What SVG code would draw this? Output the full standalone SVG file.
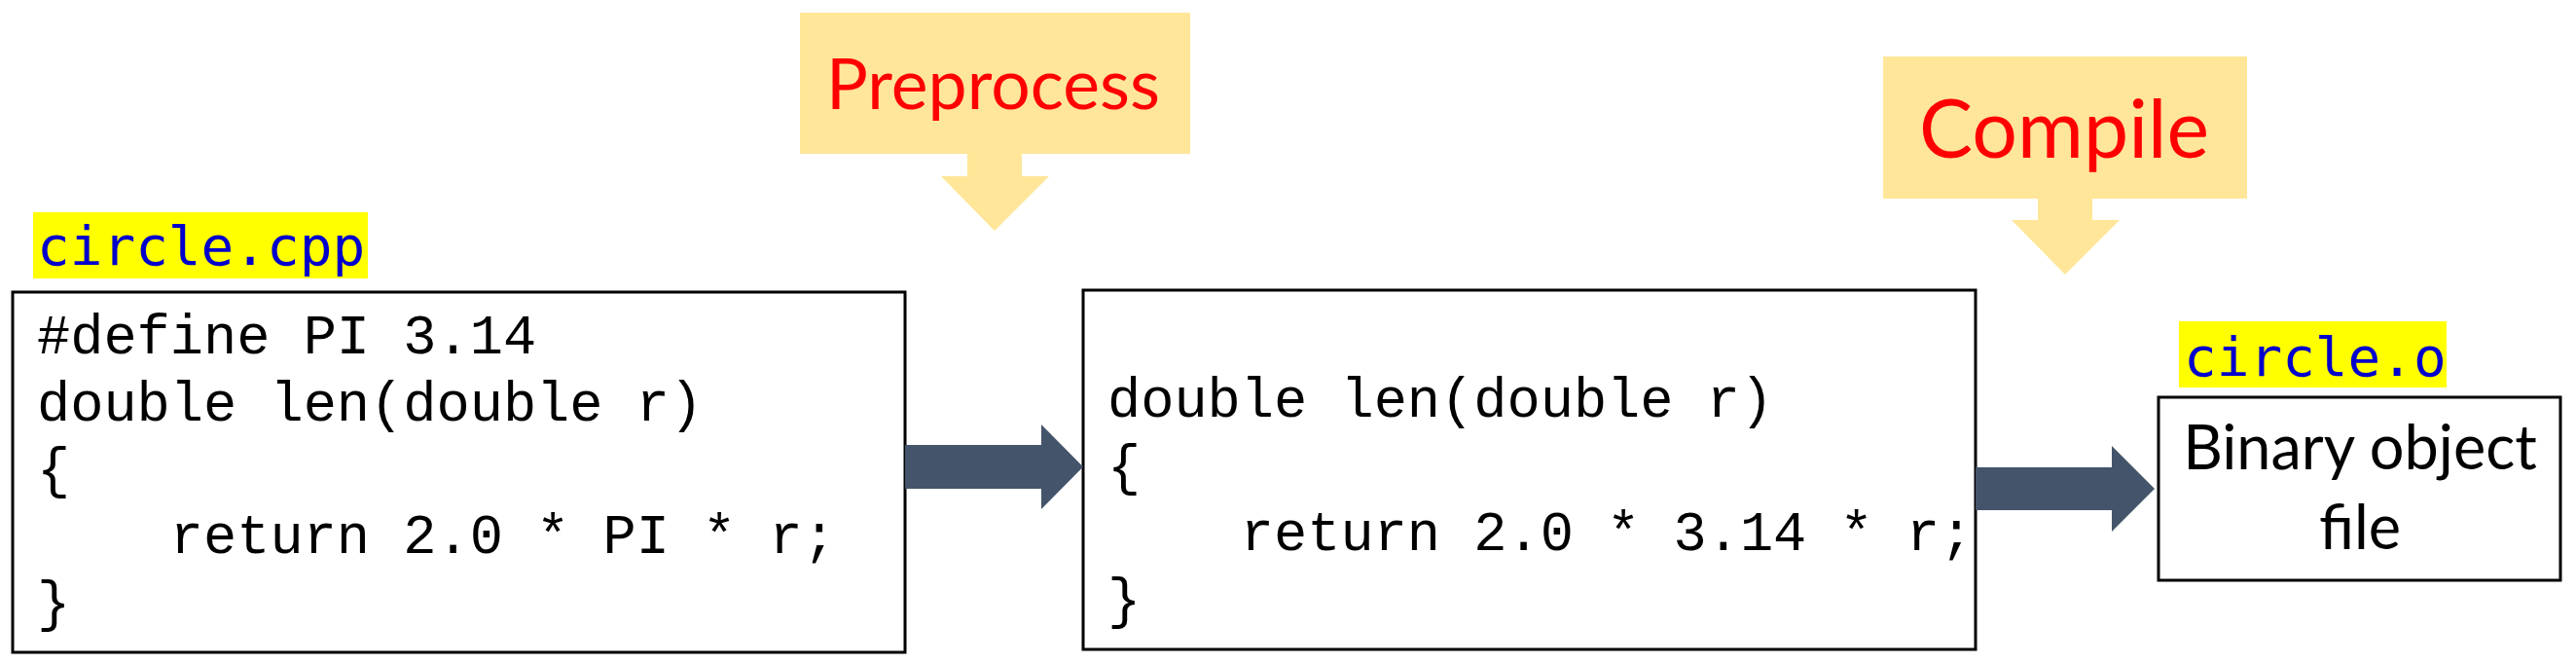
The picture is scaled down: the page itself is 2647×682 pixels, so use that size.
<svg xmlns="http://www.w3.org/2000/svg" width="2647" height="682" viewBox="0 0 2647 682">
<style>
.box{fill:#fff;stroke:#000;stroke-width:3}
.code{font-family:"Liberation Mono","Courier New",monospace;font-size:57px;fill:#000;white-space:pre}
.fname{font-family:"DejaVu Sans Mono",monospace;font-size:56px;fill:#0000CC}
.hl{fill:#FFFF00}
.callout{fill:#FFE699}
.step{font-family:Lato,"Noto Sans",sans-serif;fill:#FF0000}
.arrow{fill:#44546A}
.label{font-family:Lato,"Noto Sans",sans-serif;font-size:63px;fill:#000;text-anchor:middle}
</style>
<rect width="2647" height="682" fill="#fff"/>
<g id="preprocess">
<path class="callout" d="M822,13H1223V158H1050V181H1078L1022,237L967,181H994V158H822Z"/>
<text class="step" x="849" y="112" font-size="71.5">Preprocess</text>
</g>
<g id="compile">
<path class="callout" d="M1935,58H2309V204H2150V226H2178L2122,282L2067,226H2094V204H1935Z"/>
<text class="step" x="1972" y="162" font-size="82.5">Compile</text>
</g>
<g id="source">
<rect class="hl" x="34" y="218" width="344" height="68"/>
<text class="fname" x="38" y="272">circle.cpp</text>
<rect class="box" x="13" y="300" width="917" height="370"/>
<text class="code" xml:space="preserve"><tspan x="38" y="363">#define PI 3.14</tspan><tspan x="38" y="432">double len(double r)</tspan><tspan x="38" y="500">{</tspan><tspan x="38" y="568">    return 2.0 * PI * r;</tspan><tspan x="38" y="637">}</tspan></text>
</g>
<g id="preprocessed">
<rect class="box" x="1113" y="298" width="917" height="369"/>
<text class="code" xml:space="preserve"><tspan x="1138" y="428">double len(double r)</tspan><tspan x="1138" y="497">{</tspan><tspan x="1138" y="565">    return 2.0 * 3.14 * r;</tspan><tspan x="1138" y="634">}</tspan></text>
</g>
<g id="object">
<rect class="hl" x="2239" y="330" width="275" height="68"/>
<text class="fname" x="2244" y="386">circle.o</text>
<rect class="box" x="2218" y="408" width="413" height="188"/>
<text class="label" x="2425" y="482">Binary object</text>
<text class="label" x="2425" y="564">file</text>
</g>
<g id="connectors">
<path class="arrow" d="M930,457H1070V436L1113,479.5L1070,523V502H930Z"/>
<path class="arrow" d="M2030,480H2170V458L2214,502L2170,546V524H2030Z"/>
</g>
</svg>
